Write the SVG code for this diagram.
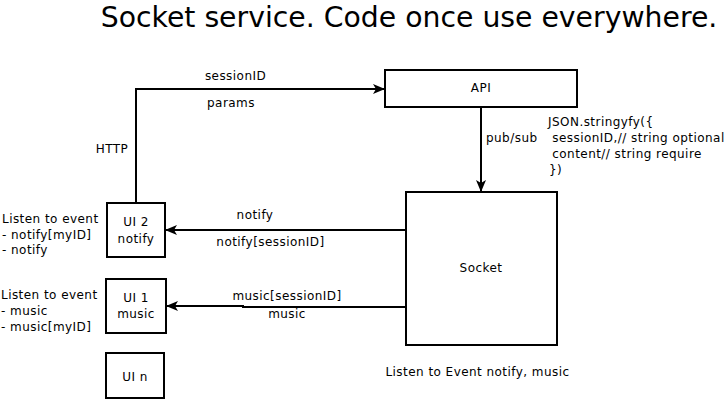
<svg xmlns="http://www.w3.org/2000/svg" width="724" height="401" viewBox="0 0 724 401">
<style>
text{font-family:"DejaVu Sans",sans-serif;font-size:12px;letter-spacing:0.45px;fill:#000}
.c{text-anchor:middle}
.box{fill:#fff;stroke:#000;stroke-width:2}
.ln{fill:none;stroke:#000;stroke-width:2}
.title{font-size:28.3px;letter-spacing:0}
</style>
<defs>
<marker id="ah" markerWidth="12" markerHeight="10" refX="11" refY="5" orient="auto" markerUnits="userSpaceOnUse">
<path d="M0,0 L12,5 L0,10 L3,5 Z" fill="#000"/>
</marker>
</defs>
<rect width="724" height="401" fill="#fff"/>
<text class="title c" x="409" y="27">Socket service. Code once use everywhere.</text>
<g id="connectors">
<path class="ln" d="M136,203 L136,89 L384,89" marker-end="url(#ah)"/>
<path class="ln" d="M481,108 L481,191" marker-end="url(#ah)"/>
<path class="ln" d="M406,230 L166,230" marker-end="url(#ah)"/>
<path class="ln" d="M406,307 L243,307 L243,306 L167,306" marker-end="url(#ah)"/>
<text class="c" x="235.5" y="80">sessionID</text>
<text class="c" x="231" y="107">params</text>
<text class="c" x="112" y="153">HTTP</text>
<text x="486" y="142">pub/sub</text>
<text class="c" x="255" y="219">notify</text>
<text class="c" x="270.5" y="246">notify[sessionID]</text>
<text class="c" x="287" y="300">music[sessionID]</text>
<text class="c" x="287" y="318">music</text>
</g>
<g id="api">
<rect class="box" x="385" y="70" width="192" height="37"/>
<text class="c" x="481" y="92">API</text>
</g>
<g id="socket">
<rect class="box" x="406" y="192" width="151" height="153"/>
<text class="c" x="481" y="272">Socket</text>
</g>
<g id="ui2">
<rect class="box" x="107" y="203" width="58" height="54"/>
<text class="c" x="136" y="226">UI 2</text>
<text class="c" x="136" y="243">notify</text>
</g>
<g id="ui1">
<rect class="box" x="106" y="279" width="60" height="54"/>
<text class="c" x="136" y="302">UI 1</text>
<text class="c" x="136" y="318">music</text>
</g>
<g id="uin">
<rect class="box" x="106" y="353" width="58" height="45"/>
<text class="c" x="135" y="381">UI n</text>
</g>
<g id="notes">
<text x="548" y="126">JSON.stringyfy({</text>
<text x="548" y="142" xml:space="preserve"> sessionID,// string optional</text>
<text x="548" y="158" xml:space="preserve"> content// string require</text>
<text x="549" y="174">})</text>
<text x="2" y="223">Listen to event</text>
<text x="2" y="239">- notify[myID]</text>
<text x="2" y="254">- notify</text>
<text x="1" y="299">Listen to event</text>
<text x="1" y="315">- music</text>
<text x="1" y="331">- music[myID]</text>
<text class="c" x="477.5" y="376">Listen to Event notify, music</text>
</g>
</svg>
